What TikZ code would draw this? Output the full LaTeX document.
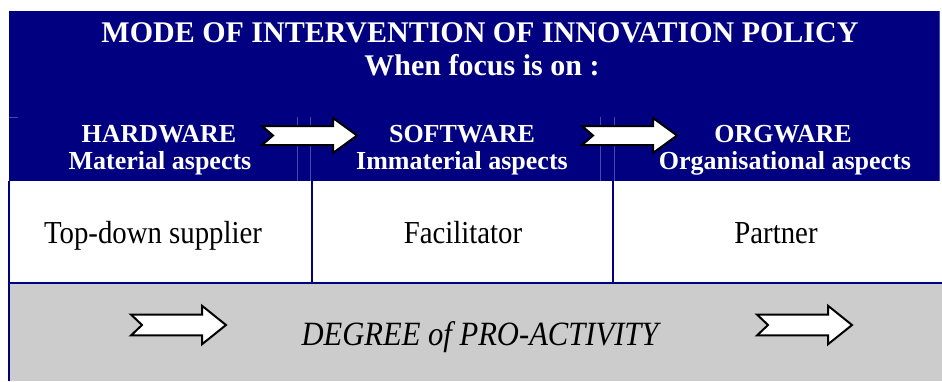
\documentclass[tikz,border=0pt]{standalone}
\usepackage{fontspec}
\setmainfont{Liberation Serif}
\newfontfamily\narrowserif[FakeStretch=0.9]{Liberation Serif}
\usetikzlibrary{positioning}

\definecolor{navyblue}{RGB}{0,0,128}
\definecolor{paleline}{RGB}{72,72,168}
\definecolor{greyband}{RGB}{204,204,204}

% notched block arrow, drawn from its tail
\tikzset{
  shiftarrow/.pic={
    \filldraw[fill=white, draw=black, line width=1pt, line join=miter]
      (0,-9.5) -- (71,-9.5) -- (71,-17.5) -- (95,0) -- (71,17.5)
      -- (71,9.5) -- (0,9.5) -- (11,0) -- cycle;
  }
}

\begin{document}
\begin{tikzpicture}[
			x=0.5pt, y=-0.5pt,
			heading/.style={font=\fontsize{15}{18}\selectfont\bfseries, text=white, anchor=base, inner sep=0pt},
			aspect/.style={font=\fontsize{13}{16}\selectfont\bfseries, text=white, anchor=base, inner sep=0pt},
			role/.style={font=\narrowserif\fontsize{16}{19}\selectfont, anchor=base, inner sep=0pt},
			cellrule/.style={navyblue, line width=1pt},
			faintrule/.style={paleline, line width=0.5pt}
			]
			\useasboundingbox (0,0) rectangle (942,381);
			
			% Bands
			\fill[navyblue] (9,11) rectangle (940,181);
			\fill[greyband] (9,283) rectangle (942,381);
			
			% Cell borders
			\draw[faintrule] (9,117) -- (18,117);
			\draw[faintrule] (297,117) -- (297,181) (310,117) -- (310,181);
			\draw[faintrule] (600,117) -- (600,181) (614,117) -- (614,181);
			\draw[faintrule] (939,11) -- (939,181);
			\draw[cellrule] (9,181) -- (9,381);
			\draw[cellrule] (9,283) -- (942,283);
			\draw[cellrule] (312,181) -- (312,283) (613,181) -- (613,283);
			
			% Heading
			\node[heading] (title) at (480,42) {MODE OF INTERVENTION OF INNOVATION POLICY};
			\node[heading] (focus) at (482,75) {When focus is on :};
			
			% Focus columns
			\node[aspect] (hw) at (159,142) {HARDWARE};
			\node[aspect] (hwsub) at (160,169) {Material aspects};
			\node[aspect] (sw) at (462,142) {SOFTWARE};
			\node[aspect] (swsub) at (462,169) {Immaterial aspects};
			\node[aspect] (ow) at (783,142) {ORGWARE};
			\node[aspect] (owsub) at (785,169) {Organisational aspects};
			
			\pic at (262,135.5) {shiftarrow};
			\pic at (582,135.5) {shiftarrow};
			
			% Roles
			\node[role] (supplier) at (153,243) {Top-down supplier};
			\node[role] (facil) at (463,243) {Facilitator};
			\node[role] (partner) at (776,243) {Partner};
			
			% Pro-activity band
			\node[role, font=\narrowserif\fontsize{17}{20}\selectfont\itshape] (degree) at (480,345) {DEGREE of PRO-ACTIVITY};
			\pic[yscale=1.1] at (131,325) {shiftarrow};
			\pic[yscale=1.1] at (757,325) {shiftarrow};
			
		\end{tikzpicture}
\end{document}
